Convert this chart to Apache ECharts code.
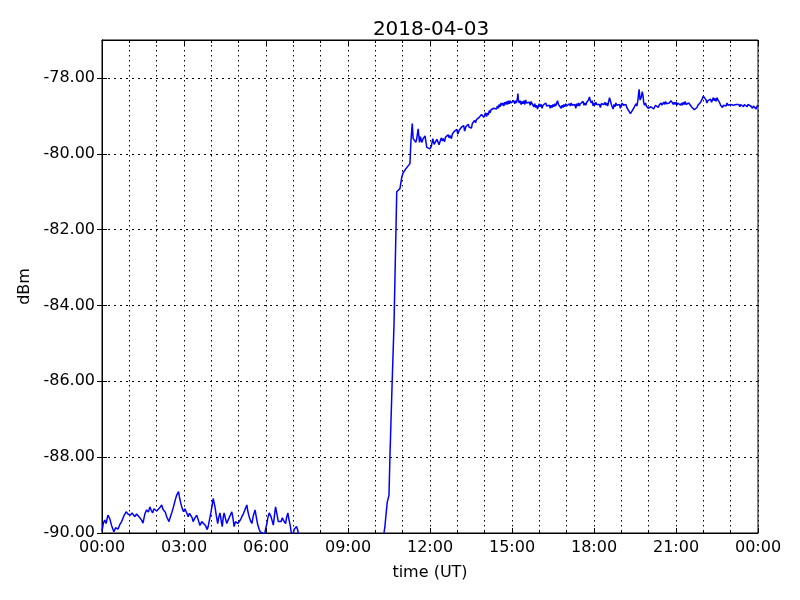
<!DOCTYPE html>
<html>
<head>
<meta charset="utf-8">
<script src="https://cdn.jsdelivr.net/npm/echarts@6/dist/echarts.min.js"></script>
<style>html,body{margin:0;padding:0;background:#fff}#c{width:800px;height:600px}</style>
</head>
<body>
<div id="c"></div>
<script>
// [minute of day (UT), dBm]
var lowSection = [[0,-89.95],[3,-89.74],[6,-89.66],[9,-89.75],[13,-89.53],[17,-89.62],[21,-89.8],[24,-89.9],[26,-89.97],[30,-89.86],[35,-89.9],[39,-89.78],[43,-89.7],[48,-89.55],[53,-89.44],[57,-89.5],[62,-89.53],[66,-89.47],[72,-89.57],[76,-89.5],[79,-89.53],[83,-89.6],[87,-89.66],[90,-89.74],[94,-89.5],[98,-89.39],[102,-89.45],[105,-89.31],[108,-89.4],[111,-89.47],[114,-89.36],[116,-89.31],[120,-89.42],[124,-89.44],[127,-89.33],[131,-89.26],[134,-89.38],[136,-89.34],[139,-89.45],[142,-89.57],[145,-89.62],[147,-89.7],[150,-89.58],[153,-89.47],[156,-89.35],[158,-89.26],[161,-89.12],[164,-89.0],[166,-88.95],[168,-88.91],[170,-89.05],[173,-89.22],[176,-89.35],[179,-89.44],[182,-89.36],[184,-89.39],[187,-89.5],[189,-89.57],[192,-89.48],[195,-89.44],[198,-89.6],[200,-89.7],[204,-89.6],[208,-89.53],[212,-89.68],[215,-89.8],[219,-89.7],[222,-89.66],[227,-89.8],[231,-89.91],[233,-89.83],[236,-89.65],[239,-89.47],[242,-89.25],[244,-89.09],[246,-89.2],[248,-89.31],[251,-89.55],[254,-89.75],[256,-89.6],[259,-89.47],[262,-89.7],[264,-89.83],[266,-89.6],[268,-89.47],[271,-89.62],[274,-89.75],[276,-89.68],[279,-89.66],[282,-89.52],[285,-89.44],[288,-89.65],[290,-89.83],[293,-89.7],[296,-89.66],[298,-89.75],[301,-89.79],[304,-89.65],[307,-89.57],[310,-89.5],[312,-89.44],[315,-89.35],[318,-89.26],[320,-89.42],[323,-89.57],[326,-89.68],[329,-89.75],[332,-89.55],[336,-89.39],[339,-89.6],[342,-89.79],[345,-89.9],[347,-89.97],[350,-89.95],[352,-90.0],[356,-90.1],[359,-89.9],[362,-89.75],[364,-89.6],[367,-89.47],[369,-89.52],[371,-89.57],[374,-89.7],[376,-89.79],[379,-89.5],[381,-89.31],[384,-89.5],[387,-89.7],[390,-89.65],[393,-89.7],[396,-89.6],[398,-89.66],[401,-89.7],[403,-89.75],[405,-89.6],[408,-89.47],[410,-89.62],[413,-89.79],[415,-89.95],[418,-90.1],[420,-90.0],[422,-89.9],[425,-89.95],[427,-89.83],[429,-89.9],[431,-90.0],[435,-90.3]];
var gapSection = [[440,-90.5],[500,-90.6],[560,-90.5],[615,-90.4]];
var riseSection = [[619,-90.0],[621,-89.83],[624,-89.85],[626,-89.2],[628,-89.22],[630,-89.0],[632,-88.0],[637,-86.0],[641,-84.5],[643,-83.34],[647,-81.0],[650,-80.95],[654,-80.92],[658,-80.62],[661,-80.5],[665,-80.45],[668,-80.38],[672,-80.32],[676,-80.26],[678,-79.7],[679,-79.65],[681,-79.2],[683,-79.6],[685,-79.65],[687,-79.55],[689,-79.7],[691,-79.6],[694,-79.34],[697,-79.7],[699,-79.55],[702,-79.7],[705,-79.6],[709,-79.53],[713,-79.83],[716,-79.78],[720,-79.87],[723,-79.8],[726,-79.6],[729,-79.75]];
var climbSection = [[733,-79.72],[735,-79.62],[738,-79.66],[740,-79.76],[742,-79.68],[745,-79.58],[747,-79.66],[749,-79.6],[752,-79.68],[754,-79.56],[757,-79.58],[760,-79.5],[762,-79.58],[764,-79.52],[767,-79.6],[769,-79.48],[771,-79.47],[774,-79.4],[777,-79.42],[779,-79.36],[781,-79.48],[784,-79.38],[786,-79.39],[789,-79.3],[792,-79.33],[794,-79.26],[796,-79.4],[799,-79.28],[801,-79.31],[804,-79.22],[806,-79.3],[808,-79.25],[811,-79.32],[813,-79.2],[815,-79.18],[818,-79.12],[820,-79.18],[822,-79.1],[824,-79.06],[826,-79.14],[828,-79.04],[830,-79.06],[833,-78.96],[835,-78.98],[838,-79.04]];
var plateauSection = [[840,-79.0],[842,-78.92],[844,-79.02],[846,-78.92],[848,-78.98],[850,-78.86],[852,-78.92],[854,-78.84],[856,-78.8],[858,-78.88],[860,-78.8],[862,-78.84],[864,-78.76],[866,-78.82],[868,-78.74],[870,-78.8],[872,-78.7],[874,-78.76],[876,-78.66],[878,-78.72],[880,-78.66],[882,-78.74],[884,-78.64],[886,-78.7],[888,-78.62],[890,-78.7],[892,-78.6],[894,-78.68],[896,-78.6],[898,-78.66],[900,-78.62],[902,-78.7],[904,-78.6],[906,-78.68],[908,-78.6],[910,-78.66],[912,-78.52],[913,-78.41],[914,-78.58],[916,-78.66],[918,-78.6],[920,-78.7],[922,-78.62],[924,-78.68],[926,-78.6],[928,-78.7],[930,-78.58],[932,-78.66],[934,-78.62],[936,-78.7],[938,-78.64],[940,-78.72],[942,-78.62],[944,-78.68],[946,-78.64],[948,-78.76],[950,-78.68],[952,-78.78],[954,-78.72],[956,-78.82],[958,-78.74],[960,-78.68],[962,-78.76],[964,-78.7],[966,-78.8],[968,-78.72],[970,-78.68],[972,-78.76],[974,-78.66],[976,-78.74],[978,-78.7],[980,-78.78],[982,-78.72],[984,-78.8],[986,-78.72],[988,-78.78],[990,-78.7],[992,-78.76],[994,-78.68],[996,-78.74],[998,-78.66],[1000,-78.6],[1001,-78.55],[1002,-78.7],[1004,-78.74],[1006,-78.68],[1008,-78.8],[1010,-78.72],[1012,-78.78],[1014,-78.7],[1016,-78.76],[1018,-78.68],[1020,-78.74],[1022,-78.7],[1024,-78.78],[1026,-78.68],[1028,-78.74],[1030,-78.66],[1032,-78.72],[1034,-78.68],[1036,-78.76],[1038,-78.7],[1040,-78.8],[1042,-78.68],[1044,-78.74],[1046,-78.66],[1048,-78.74],[1050,-78.68],[1052,-78.64],[1054,-78.7],[1056,-78.62],[1058,-78.72],[1060,-78.66],[1062,-78.72],[1064,-78.64],[1066,-78.68],[1068,-78.58],[1070,-78.5],[1071,-78.47],[1072,-78.6],[1074,-78.66],[1076,-78.6],[1078,-78.74],[1080,-78.66],[1082,-78.72],[1084,-78.64],[1086,-78.7],[1088,-78.66],[1090,-78.74],[1092,-78.7],[1094,-78.78],[1096,-78.68],[1098,-78.72],[1100,-78.64],[1102,-78.7],[1104,-78.64],[1106,-78.72],[1108,-78.66],[1110,-78.74],[1112,-78.64],[1114,-78.52],[1115,-78.49],[1116,-78.6],[1118,-78.7],[1120,-78.76],[1122,-78.82],[1124,-78.7],[1126,-78.76],[1128,-78.66],[1130,-78.72],[1132,-78.68],[1134,-78.76],[1136,-78.7],[1138,-78.8],[1140,-78.72],[1142,-78.66],[1144,-78.72],[1146,-78.68],[1148,-78.76],[1150,-78.7],[1152,-78.78],[1154,-78.82],[1156,-78.86],[1158,-78.9],[1160,-78.94],[1161,-78.96],[1162,-78.9],[1164,-78.86],[1166,-78.82],[1168,-78.78],[1170,-78.74],[1172,-78.68],[1174,-78.74],[1176,-78.62],[1178,-78.4],[1179,-78.3],[1180,-78.42],[1181,-78.58],[1182,-78.62],[1184,-78.5],[1186,-78.36],[1187,-78.33],[1188,-78.5],[1189,-78.65],[1191,-78.72],[1193,-78.66],[1195,-78.74],[1197,-78.7],[1199,-78.8],[1201,-78.76],[1203,-78.84],[1205,-78.76],[1207,-78.8],[1209,-78.74],[1211,-78.82],[1213,-78.78],[1215,-78.72],[1217,-78.76],[1219,-78.7],[1221,-78.78],[1223,-78.72],[1225,-78.76],[1227,-78.66],[1229,-78.72],[1231,-78.68],[1233,-78.64],[1235,-78.7],[1237,-78.62],[1239,-78.68],[1241,-78.64],[1243,-78.72],[1245,-78.66],[1247,-78.7],[1249,-78.6],[1250,-78.55],[1252,-78.64],[1254,-78.7],[1256,-78.64],[1258,-78.7],[1260,-78.64],[1262,-78.72],[1264,-78.66],[1266,-78.7],[1268,-78.64],[1270,-78.72],[1272,-78.66],[1274,-78.72],[1276,-78.64],[1278,-78.7],[1280,-78.62],[1282,-78.7],[1284,-78.66],[1286,-78.72],[1288,-78.66],[1290,-78.7],[1292,-78.68],[1294,-78.76],[1296,-78.72],[1298,-78.8],[1300,-78.84],[1302,-78.87],[1304,-78.82],[1306,-78.78],[1308,-78.72],[1310,-78.68],[1312,-78.72],[1314,-78.64],[1316,-78.6],[1318,-78.54],[1320,-78.48],[1322,-78.43],[1324,-78.5],[1326,-78.58],[1328,-78.66],[1330,-78.6],[1332,-78.56],[1334,-78.62],[1336,-78.56],[1338,-78.64],[1340,-78.58],[1342,-78.52],[1344,-78.6],[1346,-78.54],[1348,-78.62],[1350,-78.52],[1352,-78.58],[1354,-78.62],[1356,-78.66],[1358,-78.72],[1360,-78.74],[1362,-78.78],[1364,-78.72],[1366,-78.76],[1368,-78.7],[1370,-78.74],[1372,-78.66],[1374,-78.72],[1376,-78.68],[1378,-78.76],[1380,-78.7],[1382,-78.74],[1384,-78.66],[1386,-78.72],[1388,-78.68],[1390,-78.74],[1392,-78.7],[1394,-78.66],[1396,-78.72],[1398,-78.7],[1400,-78.76],[1402,-78.7],[1404,-78.74],[1406,-78.68],[1408,-78.76],[1410,-78.7],[1412,-78.74],[1414,-78.68],[1416,-78.76],[1418,-78.7],[1420,-78.74],[1422,-78.68],[1424,-78.74],[1426,-78.7],[1428,-78.8],[1430,-78.74],[1432,-78.7],[1434,-78.76],[1436,-78.82],[1438,-78.74],[1440,-78.72]];

var titleText = '2018-04-03';
var xName = 'time (UT)';
var yName = 'dBm';
var yTicks = [-90, -88, -86, -84, -82, -80, -78];

var series = lowSection.concat(gapSection, riseSection, climbSection, plateauSection);

function pad(n){ return (n < 10 ? '0' : '') + n; }
var font = 'DejaVu Sans';
var dottedV = { color: '#000', width: 1, type: [1.5, 3.5] };
var dottedH = { color: '#000', width: 1, type: [2, 4] };

var chart = echarts.init(document.getElementById('c'), null, { renderer: 'canvas' });
chart.setOption({
  animation: false,
  backgroundColor: '#fff',
  title: {
    text: titleText, left: 426, top: 15, textAlign: 'center',
    textStyle: { fontFamily: font, fontSize: 20, fontWeight: 'normal', color: '#000' }
  },
  grid: { left: 102, right: 42, top: 40, bottom: 67, show: true, borderColor: '#000', borderWidth: 1, backgroundColor: 'transparent' },
  xAxis: [{
    type: 'value', min: 0, max: 1440, interval: 180,
    name: xName, nameLocation: 'middle', nameGap: 32,
    nameTextStyle: { fontFamily: font, fontSize: 16, color: '#000' },
    axisLine: { lineStyle: { color: '#000' } },
    axisTick: { inside: true, length: 5, lineStyle: { color: '#000' } },
    minorTick: { show: true, splitNumber: 3, length: 3, lineStyle: { color: '#000' } },
    axisLabel: { margin: 7, fontFamily: font, fontSize: 16, color: '#000',
      formatter: function (v) { return pad(Math.floor(v / 60) % 24) + ':00'; } },
    splitLine: { show: true, lineStyle: dottedV },
    minorSplitLine: { show: true, lineStyle: dottedV }
  }, {
    type: 'value', min: 0, max: 1440, interval: 180, position: 'top',
    axisLine: { lineStyle: { color: '#000' } },
    axisTick: { inside: true, length: 5, lineStyle: { color: '#000' } },
    minorTick: { show: true, splitNumber: 3, length: 3, lineStyle: { color: '#000' } },
    axisLabel: { show: false }, splitLine: { show: false }
  }],
  yAxis: [{
    type: 'value', min: -90, max: -77, interval: 2,
    name: yName, nameLocation: 'middle', nameGap: 65, nameRotate: 90,
    nameTextStyle: { fontFamily: font, fontSize: 16, color: '#000' },
    axisLine: { lineStyle: { color: '#000' } },
    axisTick: { inside: true, length: 5, customValues: yTicks, lineStyle: { color: '#000' } },
    axisLabel: { margin: 7, fontFamily: font, fontSize: 16, color: '#000',
      formatter: function (v) { return v === -77 ? '' : v.toFixed(2); } },
    splitLine: { show: true, lineStyle: dottedH }
  }, {
    type: 'value', min: -90, max: -77, interval: 2, position: 'right',
    axisLine: { lineStyle: { color: '#000' } },
    axisTick: { inside: true, length: 5, customValues: yTicks, lineStyle: { color: '#000' } },
    axisLabel: { show: false }, splitLine: { show: false }
  }],
  series: [{
    type: 'line', data: series, xAxisIndex: 0, yAxisIndex: 0,
    showSymbol: false, symbol: 'none', clip: true,
    lineStyle: { color: '#0000ff', width: 1.5 }
  }]
});
</script>
</body>
</html>
